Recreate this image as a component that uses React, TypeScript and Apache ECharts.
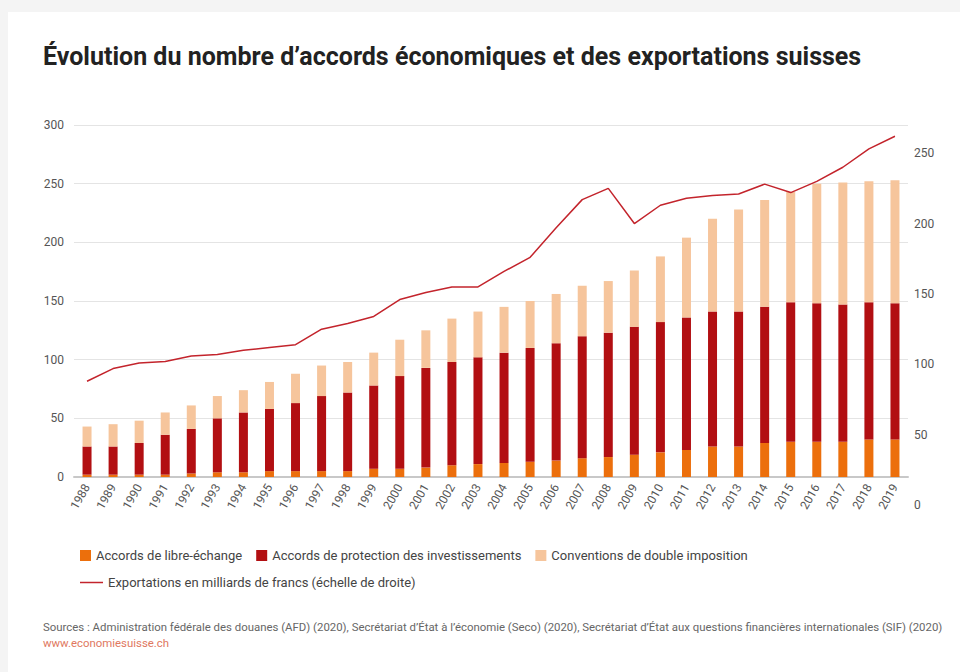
import React, { useEffect, useRef } from "react";
import * as echarts from "echarts";

const years = [
  "1988", "1989", "1990", "1991", "1992", "1993", "1994", "1995", "1996", "1997",
  "1998", "1999", "2000", "2001", "2002", "2003", "2004", "2005", "2006", "2007",
  "2008", "2009", "2010", "2011", "2012", "2013", "2014", "2015", "2016", "2017",
  "2018", "2019",
];

// Accords de libre-échange
const freeTrade = [2, 2, 2, 2, 3, 4, 4, 5, 5, 5, 5, 7, 7, 8, 10, 11, 12, 13, 14, 16, 17, 19, 21, 23, 26, 26, 29, 30, 30, 30, 32, 32];
// Accords de protection des investissements
const investment = [24, 24, 27, 34, 38, 46, 51, 53, 58, 64, 67, 71, 79, 85, 88, 91, 94, 97, 100, 104, 106, 109, 111, 113, 115, 115, 116, 119, 118, 117, 117, 116];
// Conventions de double imposition
const doubleTax = [17, 19, 19, 19, 20, 19, 19, 23, 25, 26, 26, 28, 31, 32, 37, 39, 39, 40, 42, 43, 44, 48, 56, 68, 79, 87, 91, 94, 102, 104, 103, 105];
// Exportations en milliards de francs
const exportsBn = [88, 97, 101, 102, 106, 107, 110, 112, 114, 125, 129, 134, 146, 151, 155, 155, 166, 176, 197, 217, 225, 200, 213, 218, 220, 221, 228, 222, 230, 240, 253, 262];

const leftTicks = { min: 0, max: 300, interval: 50 };
const rightTicks = { min: 0, max: 250, interval: 50 };
const rightLineRange = { min: 20, max: 270 };

const seriesNames = [
  "Accords de libre-échange",
  "Accords de protection des investissements",
  "Conventions de double imposition",
  "Exportations en milliards de francs (échelle de droite)",
];

const titleText = "Évolution du nombre d’accords économiques et des exportations suisses";
const sourceText =
  "Sources : Administration fédérale des douanes (AFD) (2020), Secrétariat d’État à l’économie (Seco) (2020), Secrétariat d’État aux questions financières internationales (SIF) (2020)";
const urlText = "www.economiesuisse.ch";

const FONT = "Roboto, 'Noto Sans', sans-serif";

export default function App() {
  const ref = useRef<HTMLDivElement>(null);

  useEffect(() => {
    if (!ref.current) return;
    const chart = echarts.init(ref.current, undefined, { renderer: "svg" });
    const labelColor = "#555";
    chart.setOption({
      animation: false,
      backgroundColor: "transparent",
      textStyle: { fontFamily: FONT },
      title: [
        {
          text: titleText,
          left: 43,
          top: 44,
          padding: 0,
          textStyle: { fontFamily: FONT, fontSize: 25, fontWeight: "bold", color: "#222" },
        },
        {
          text: sourceText,
          left: 43,
          top: 621,
          padding: 0,
          textStyle: { fontFamily: FONT, fontSize: 11.4, fontWeight: "normal", color: "#666" },
        },
        {
          text: urlText,
          left: 43,
          top: 637,
          padding: 0,
          textStyle: { fontFamily: FONT, fontSize: 11.4, fontWeight: "normal", color: "#e07860" },
        },
      ],
      legend: [
        {
          left: 75,
          top: 544,
          data: seriesNames.slice(0, 3),
          icon: "rect",
          itemWidth: 11,
          itemHeight: 11,
          itemGap: 14,
          textStyle: { fontFamily: FONT, fontSize: 13, color: "#444" },
        },
        {
          left: 75,
          top: 571,
          data: [seriesNames[3]],
          icon: "rect",
          itemWidth: 23,
          itemHeight: 1.5,
          textStyle: { fontFamily: FONT, fontSize: 13, color: "#444" },
        },
      ],
      grid: [
        { left: 74, right: 52, top: 125, height: 352, containLabel: false },
        { left: 74, right: 52, top: 153.2, height: 352, containLabel: false },
      ],
      xAxis: [
        {
          type: "category",
          gridIndex: 0,
          data: years,
          axisTick: { show: false },
          axisLine: { lineStyle: { color: "#c8c8c8", width: 2 } },
          axisLabel: {
            rotate: 60,
            interval: 0,
            color: labelColor,
            fontSize: 12,
            fontFamily: FONT,
            margin: 8,
          },
        },
        { type: "value", gridIndex: 1, show: false, min: 0, max: 1 },
      ],
      yAxis: [
        {
          type: "value",
          gridIndex: 0,
          min: leftTicks.min,
          max: leftTicks.max,
          interval: leftTicks.interval,
          axisLine: { show: false },
          axisTick: { show: false },
          splitLine: { lineStyle: { color: "#e4e4e4", width: 1 } },
          axisLabel: { color: labelColor, fontSize: 12, fontFamily: FONT, margin: 10 },
        },
        {
          type: "value",
          gridIndex: 0,
          position: "right",
          min: rightLineRange.min,
          max: rightLineRange.max,
          show: false,
          splitLine: { show: false },
        },
        {
          type: "value",
          gridIndex: 1,
          position: "right",
          min: rightTicks.min,
          max: rightTicks.max,
          interval: rightTicks.interval,
          axisLine: { show: false },
          axisTick: { show: false },
          splitLine: { show: false },
          axisLabel: { color: labelColor, fontSize: 12, fontFamily: FONT, margin: 6 },
        },
      ],
      series: [
        {
          name: seriesNames[0],
          type: "bar",
          stack: "accords",
          barWidth: 9,
          xAxisIndex: 0,
          yAxisIndex: 0,
          itemStyle: { color: "#ec6f0c" },
          data: freeTrade,
        },
        {
          name: seriesNames[1],
          type: "bar",
          stack: "accords",
          barWidth: 9,
          xAxisIndex: 0,
          yAxisIndex: 0,
          itemStyle: { color: "#b20f12" },
          data: investment,
        },
        {
          name: seriesNames[2],
          type: "bar",
          stack: "accords",
          barWidth: 9,
          xAxisIndex: 0,
          yAxisIndex: 0,
          itemStyle: { color: "#f6c59c" },
          data: doubleTax,
        },
        {
          name: seriesNames[3],
          type: "line",
          xAxisIndex: 0,
          yAxisIndex: 1,
          showSymbol: false,
          symbol: "none",
          lineStyle: { color: "#c3242c", width: 1.5 },
          itemStyle: { color: "#c3242c" },
          data: exportsBn,
          z: 5,
        },
      ],
    });
    return () => chart.dispose();
  }, []);

  return (
    <div style={{ position: "absolute", left: 0, top: 0, width: 960, height: 672, background: "#f4f4f4", overflow: "hidden" }}>
      <div style={{ position: "absolute", left: 8, top: 12, right: 0, bottom: 0, background: "#ffffff" }} />
      <div ref={ref} style={{ position: "absolute", left: 0, top: 0, width: 960, height: 672 }} />
    </div>
  );
}
